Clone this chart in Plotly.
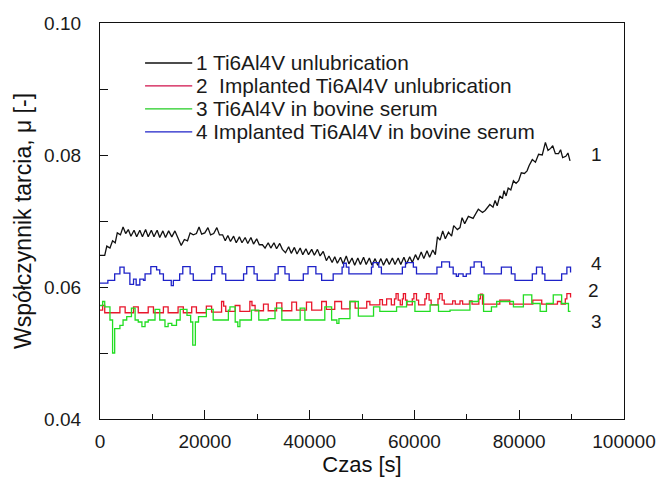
import plotly.graph_objects as go

# ---------------- data ----------------
# Series 1: Ti6Al4V unlubrication (black)
t1 = [0, 900, 1300, 1900, 2400, 2900, 3300, 3900, 4400, 4900, 5400, 5900, 6500, 7000,
      7600, 8100, 8700, 9200, 9800, 10300, 10900, 11400, 12000, 12500, 13100, 13700,
      14300, 14900, 15500, 16100, 16700, 17200, 17800, 18400, 18900, 19400, 20000,
      20600, 21100, 21700, 22300, 22800, 23400, 23900, 24400, 24900, 25500, 26000,
      26600, 27100, 27700, 28200, 28800, 29300, 29900, 30400, 31000, 31500, 32100,
      32600, 33200, 33700, 34300, 34800, 35400, 36000, 36500, 37100, 37600, 38200,
      38700, 39300, 39800, 40400, 40900, 41500, 42000, 42600, 43200, 43700, 44300,
      44800, 45300, 45900, 46400, 47000, 47500, 48100, 48600, 49200, 49700, 50300,
      50800, 51400, 51900, 52500, 53000, 53600, 54100, 54700, 55200, 55800, 56300,
      56900, 57400, 58000, 58500, 59100, 59600, 60200, 60700, 61300, 61800, 62400,
      62900, 63500, 64000, 64400, 64900, 65400, 65900, 66500, 67100, 67500, 68200,
      68700, 69100, 69600, 70300, 71200, 71700, 72200, 73000, 73500, 74400, 75000,
      75400, 75800, 76300, 76800, 77100, 77500, 77900, 78400, 78900, 79400, 79900,
      80400, 81000, 81500, 81900, 82500, 83100, 83700, 84400, 85000, 85500, 86000,
      86400, 86900, 87500, 87900, 88300, 88900, 89300, 89700]
mu1 = [0.0648, 0.0648, 0.0662, 0.0659, 0.0670, 0.0667, 0.0682, 0.0679, 0.0691, 0.0681,
       0.0687, 0.0677, 0.0686, 0.0676, 0.0686, 0.0676, 0.0687, 0.0676, 0.0686, 0.0676,
       0.0686, 0.0675, 0.0685, 0.0675, 0.0685, 0.0676, 0.0685, 0.0675, 0.0663, 0.0672,
       0.0670, 0.0682, 0.0679, 0.0681, 0.0691, 0.0680, 0.0682, 0.0690, 0.0679, 0.0681,
       0.0690, 0.0679, 0.0679, 0.0670, 0.0678, 0.0669, 0.0677, 0.0667, 0.0676, 0.0667,
       0.0675, 0.0666, 0.0675, 0.0665, 0.0673, 0.0664, 0.0664, 0.0659, 0.0667, 0.0659,
       0.0667, 0.0658, 0.0666, 0.0657, 0.0652, 0.0661, 0.0651, 0.0660, 0.0650, 0.0659,
       0.0649, 0.0658, 0.0649, 0.0657, 0.0648, 0.0657, 0.0647, 0.0654, 0.0640, 0.0647,
       0.0637, 0.0646, 0.0636, 0.0645, 0.0635, 0.0647, 0.0635, 0.0644, 0.0633, 0.0644,
       0.0634, 0.0645, 0.0634, 0.0644, 0.0633, 0.0643, 0.0633, 0.0643, 0.0633, 0.0643,
       0.0634, 0.0644, 0.0634, 0.0644, 0.0634, 0.0645, 0.0635, 0.0646, 0.0637, 0.0649,
       0.0641, 0.0653, 0.0643, 0.0655, 0.0645, 0.0656, 0.0649, 0.0676, 0.0671, 0.0685,
       0.0673, 0.0683, 0.0677, 0.0693, 0.0687, 0.0690, 0.0705, 0.0696, 0.0707, 0.0704,
       0.0710, 0.0718, 0.0713, 0.0716, 0.0725, 0.0721, 0.0731, 0.0723, 0.0738, 0.0734,
       0.0746, 0.0738, 0.0750, 0.0747, 0.0761, 0.0757, 0.0761, 0.0773, 0.0772, 0.0776,
       0.0784, 0.0793, 0.0789, 0.0801, 0.0800, 0.0819, 0.0807, 0.0810, 0.0814, 0.0802,
       0.0802, 0.0808, 0.0796, 0.0798, 0.0803, 0.0791]

# Series 2: Implanted Ti6Al4V unlubrication (red)
t2 = [0, 500, 900, 3800, 4800, 6400, 7300, 9200, 10200, 12100, 13000, 14900, 15900,
      17500, 18400, 20300, 21300, 23200, 23600, 24000, 25800, 26700, 28600, 29000,
      29600, 31200, 32100, 33700, 34700, 36600, 37500, 39400, 40400, 42300, 43200,
      44800, 46100, 47700, 48700, 50900, 51500, 53400, 53900, 54700, 55600, 56200,
      56500, 56900, 57300, 57700, 57900, 58300, 58600, 59600, 59900, 60400, 60800,
      62000, 62300, 62800, 63200, 64500, 64800, 65300, 65700, 67300, 67800, 68700,
      69200, 70500, 71000, 72300, 72600, 73000, 76300, 78200, 82600, 84300, 87300,
      88000, 88800, 89100, 89800]
mu2 = [0.0565, 0.0572, 0.0561, 0.0570, 0.0561, 0.0570, 0.0561, 0.0570, 0.0561, 0.0570,
       0.0561, 0.0570, 0.0561, 0.0570, 0.0561, 0.0571, 0.0562, 0.0578, 0.0571, 0.0563,
       0.0572, 0.0563, 0.0578, 0.0572, 0.0564, 0.0574, 0.0564, 0.0576, 0.0564, 0.0577,
       0.0565, 0.0577, 0.0565, 0.0578, 0.0566, 0.0578, 0.0567, 0.0578, 0.0568, 0.0578,
       0.0573, 0.0581, 0.0573, 0.0582, 0.0573, 0.0582, 0.0590, 0.0580, 0.0573, 0.0582,
       0.0590, 0.0580, 0.0573, 0.0582, 0.0590, 0.0580, 0.0573, 0.0582, 0.0590, 0.0580,
       0.0573, 0.0582, 0.0590, 0.0580, 0.0574, 0.0579, 0.0574, 0.0579, 0.0574, 0.0579,
       0.0574, 0.0582, 0.0589, 0.0574, 0.0580, 0.0574, 0.0580, 0.0574, 0.0578, 0.0574,
       0.0582, 0.0590, 0.0584]

# Series 3: Ti6Al4V in bovine serum (green)
t3 = [0, 500, 900, 1900, 2400, 2800, 3800, 4400, 5100, 6000, 6700, 7300, 8000, 8600,
      9200, 10500, 11400, 12400, 13000, 13700, 14600, 15300, 16600, 17300, 17700,
      18200, 18800, 20300, 21600, 24500, 24800, 25800, 26300, 26700, 28900, 30300,
      32100, 33400, 34700, 38200, 39100, 42900, 44200, 45200, 45600, 47700, 49300,
      52200, 53400, 56600, 58500, 60100, 63000, 64600, 66800, 70600, 72200, 73200,
      74700, 75700, 78900, 80800, 82400, 84000, 85200, 86500, 88100, 89400, 89800]
mu3 = [0.0572, 0.0578, 0.0570, 0.0550, 0.0500, 0.0537, 0.0542, 0.0550, 0.0555, 0.0568,
       0.0550, 0.0547, 0.0540, 0.0547, 0.0550, 0.0566, 0.0550, 0.0540, 0.0545, 0.0542,
       0.0550, 0.0566, 0.0557, 0.0547, 0.0512, 0.0547, 0.0555, 0.0566, 0.0550, 0.0565,
       0.0570, 0.0547, 0.0540, 0.0550, 0.0565, 0.0550, 0.0552, 0.0568, 0.0550, 0.0568,
       0.0550, 0.0570, 0.0550, 0.0545, 0.0552, 0.0578, 0.0556, 0.0570, 0.0563, 0.0570,
       0.0578, 0.0563, 0.0573, 0.0563, 0.0565, 0.0578, 0.0588, 0.0563, 0.0570, 0.0578,
       0.0570, 0.0588, 0.0575, 0.0563, 0.0575, 0.0588, 0.0575, 0.0563, 0.0563]

# Series 4: Implanted Ti6Al4V in bovine serum (blue)
t4 = [0, 1500, 2800, 3800, 4600, 5700, 6400, 6900, 7600, 8300, 8600, 9700, 10800,
      11400, 12100, 13600, 14000, 15200, 15800, 17200, 17800, 21300, 21900, 23300,
      24000, 27400, 28000, 29400, 30000, 33400, 34000, 35300, 36100, 38800, 39700,
      41200, 42300, 44500, 46200, 46500, 47000, 47500, 51800, 52100, 53200, 53700,
      57700, 58300, 59800, 60400, 64300, 65200, 66700, 67400, 68000, 68400, 69300,
      69900, 70700, 71400, 72800, 73300, 76600, 78500, 79200, 82500, 83300, 84400,
      84900, 88100, 89100, 89800]
mu4 = [0.0606, 0.0610, 0.0620, 0.0630, 0.0621, 0.0604, 0.0612, 0.0603, 0.0612, 0.0610,
       0.0620, 0.0631, 0.0626, 0.0620, 0.0610, 0.0602, 0.0610, 0.0620, 0.0631, 0.0620,
       0.0610, 0.0620, 0.0631, 0.0620, 0.0610, 0.0620, 0.0631, 0.0620, 0.0610, 0.0620,
       0.0631, 0.0620, 0.0610, 0.0620, 0.0631, 0.0620, 0.0610, 0.0620, 0.0630, 0.0636,
       0.0630, 0.0620, 0.0630, 0.0637, 0.0630, 0.0620, 0.0630, 0.0637, 0.0630, 0.0620,
       0.0630, 0.0638, 0.0630, 0.0620, 0.0616, 0.0620, 0.0616, 0.0620, 0.0630, 0.0638,
       0.0630, 0.0620, 0.0630, 0.0620, 0.0610, 0.0620, 0.0630, 0.0620, 0.0610, 0.0620,
       0.0630, 0.0622]

series_names = ["1 Ti6Al4V unlubrication",
                "2  Implanted Ti6Al4V unlubrication",
                "3 Ti6Al4V in bovine serum",
                "4 Implanted Ti6Al4V in bovine serum"]
series_colors = ["#111111", "#e8162b", "#22dd22", "#1e22c8"]
legend_colors = ["#111111", "#d0104a", "#22cc22", "#1e22c8"]

end_labels = ["1", "2", "3", "4"]
end_label_x = [93300, 92700, 93300, 93300]
end_label_y = [0.0801, 0.0594, 0.0547, 0.0636]

x_title = "Czas [s]"
y_title = "Współczynnik tarcia, μ [-]"

FONT = "Liberation Sans, Arial, sans-serif"

fig = go.Figure()
all_t = [t1, t2, t3, t4]
all_mu = [mu1, mu2, mu3, mu4]
shapes_ = ["linear", "hv", "hv", "hv"]
for t, mu, name, col, sh in zip(all_t, all_mu, series_names, series_colors, shapes_):
    fig.add_trace(go.Scatter(x=t, y=mu, mode="lines", name=name,
                             line=dict(color=col, width=1.3, shape=sh),
                             showlegend=False))

# manual legend (inside the plot, top-left)
leg_y = [0.899, 0.841, 0.783, 0.725]
shapes = []
annotations = []
for name, col, yy in zip(series_names, legend_colors, leg_y):
    shapes.append(dict(type="line", xref="paper", yref="paper",
                       x0=0.086, x1=0.176, y0=yy, y1=yy,
                       line=dict(color=col, width=1.3)))
    annotations.append(dict(xref="paper", yref="paper", x=0.180, y=yy,
                            text=name, showarrow=False, xanchor="left",
                            yanchor="middle",
                            font=dict(family=FONT, size=20.8, color="#1a1a1a")))

for lab, lx, ly in zip(end_labels, end_label_x, end_label_y):
    annotations.append(dict(x=lx, y=ly, xref="x", yref="y", text=lab,
                            showarrow=False, xanchor="left", yanchor="middle",
                            font=dict(family=FONT, size=19, color="#1a1a1a")))

fig.update_layout(
    width=659, height=482,
    margin=dict(l=100, r=35, t=23, b=63),
    paper_bgcolor="white", plot_bgcolor="white",
    font=dict(family=FONT, size=18, color="#1a1a1a"),
    shapes=shapes, annotations=annotations,
    showlegend=False,
)
fig.update_xaxes(
    range=[0, 100000], dtick=20000, tick0=0, tickformat="d",
    ticks="inside", ticklen=9, tickwidth=1.2, tickcolor="#111",
    minor=dict(dtick=10000, ticks="inside", ticklen=5, tickwidth=1.2, tickcolor="#111"),
    showline=True, linecolor="#111", linewidth=1.3, mirror=True,
    showgrid=False, zeroline=False, automargin=False,
    tickfont=dict(family=FONT, size=19, color="#1a1a1a"),
    ticklabelstandoff=5,
    title=dict(text=x_title, font=dict(family=FONT, size=22, color="#111"), standoff=4),
)
fig.update_yaxes(
    range=[0.04, 0.10], dtick=0.02, tick0=0.04, tickformat=".2f",
    ticks="inside", ticklen=8, tickwidth=1.2, tickcolor="#111",
    minor=dict(dtick=0.01, ticks="inside", ticklen=8, tickwidth=1.2, tickcolor="#111"),
    showline=True, linecolor="#111", linewidth=1.3, mirror=True,
    showgrid=False, zeroline=False, automargin=False,
    tickfont=dict(family=FONT, size=19, color="#1a1a1a"),
    ticklabelstandoff=14,
    title=dict(text=y_title, font=dict(family=FONT, size=23, color="#111"), standoff=6),
)

fig.write_html("out.html",
               config={"displayModeBar": False},
               post_script="document.body.style.margin='0';document.body.style.padding='0';")
